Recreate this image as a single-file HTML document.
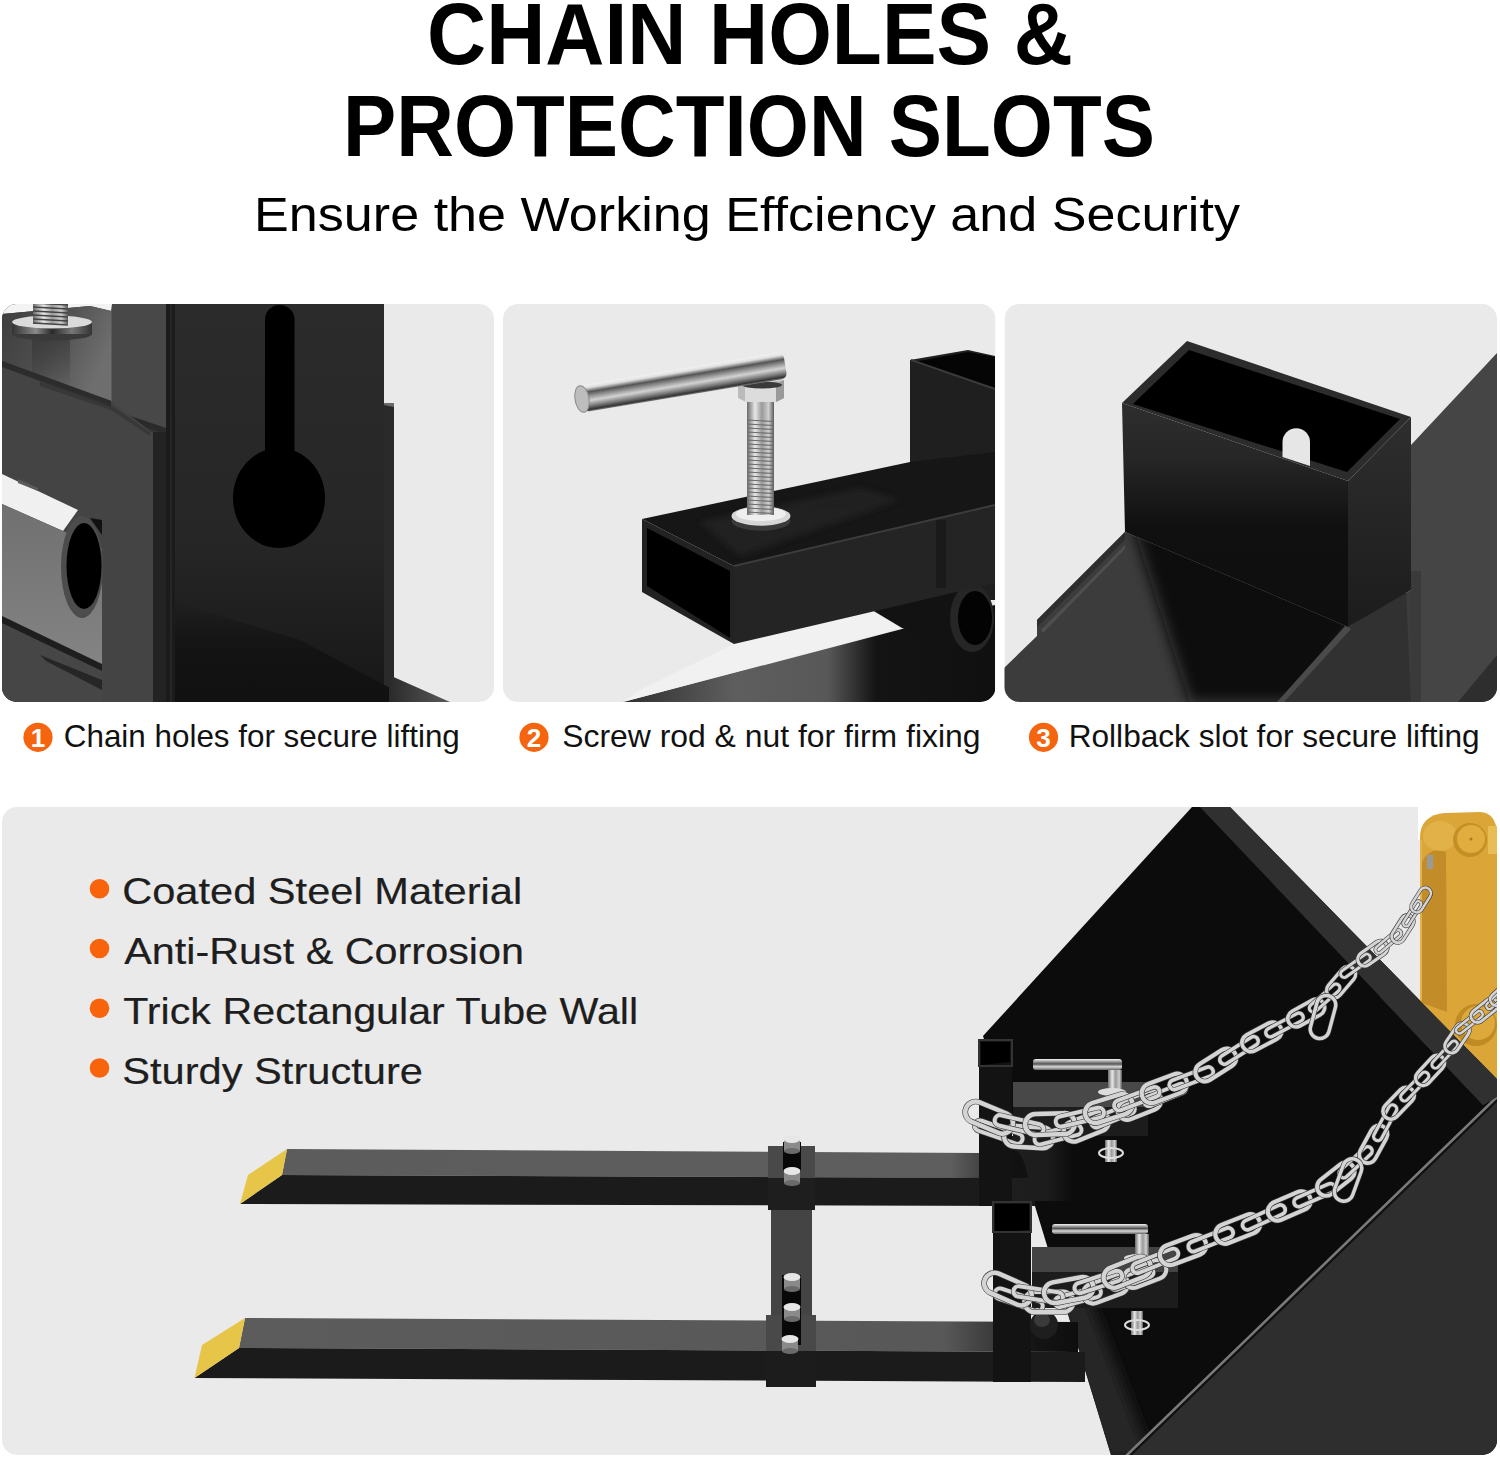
<!DOCTYPE html>
<html><head><meta charset="utf-8">
<style>
html,body{margin:0;padding:0;background:#fff;width:1500px;height:1457px;overflow:hidden}
svg{display:block}
text{font-family:"Liberation Sans",sans-serif}
</style></head>
<body>
<svg width="1500" height="1457" viewBox="0 0 1500 1457">

<defs>
<clipPath id="c1"><rect x="2" y="304" width="492" height="398" rx="15"/></clipPath>
<clipPath id="c2"><rect x="503" y="304" width="492.5" height="398" rx="15"/></clipPath>
<clipPath id="c3"><rect x="1004.5" y="304" width="492.5" height="398" rx="15"/></clipPath>
<clipPath id="c4"><rect x="2" y="807" width="1495" height="648" rx="15"/></clipPath>
<linearGradient id="gPost" x1="0" y1="0" x2="0" y2="1"><stop offset="0" stop-color="#2b2b2b"/><stop offset="0.6" stop-color="#262626"/><stop offset="1" stop-color="#171717"/></linearGradient>
<linearGradient id="gPlate1" x1="0" y1="0" x2="1" y2="0.4"><stop offset="0" stop-color="#3e3e3e"/><stop offset="0.5" stop-color="#4e4e4e"/><stop offset="1" stop-color="#6e6e6e"/></linearGradient>
<linearGradient id="gInner1" x1="0" y1="0" x2="0" y2="1"><stop offset="0" stop-color="#707070"/><stop offset="1" stop-color="#848484"/></linearGradient>
<linearGradient id="gSilverV" x1="0" y1="0" x2="1" y2="0"><stop offset="0" stop-color="#6a6a6a"/><stop offset="0.3" stop-color="#e8e8e8"/><stop offset="0.55" stop-color="#9a9a9a"/><stop offset="0.8" stop-color="#d0d0d0"/><stop offset="1" stop-color="#5a5a5a"/></linearGradient>
<linearGradient id="gRod" x1="0" y1="0" x2="0" y2="1"><stop offset="0" stop-color="#f4f4f4"/><stop offset="0.25" stop-color="#9a9a9a"/><stop offset="0.45" stop-color="#555"/><stop offset="0.7" stop-color="#d8d8d8"/><stop offset="1" stop-color="#666"/></linearGradient>
<linearGradient id="gPlate2" x1="0" y1="0" x2="1" y2="0"><stop offset="0" stop-color="#303030"/><stop offset="0.3" stop-color="#5e5e5e"/><stop offset="0.55" stop-color="#585858"/><stop offset="0.68" stop-color="#141414"/><stop offset="1" stop-color="#101010"/></linearGradient>
<linearGradient id="gFork" x1="0" y1="0" x2="1" y2="0"><stop offset="0" stop-color="#585858"/><stop offset="0.6" stop-color="#5a5a5a"/><stop offset="1" stop-color="#5c5c5c"/></linearGradient>
<linearGradient id="gYel" x1="0" y1="0" x2="1" y2="0"><stop offset="0" stop-color="#c08a22"/><stop offset="0.3" stop-color="#dba73c"/><stop offset="1" stop-color="#dfa935"/></linearGradient>
<linearGradient id="gBox3" x1="0" y1="0" x2="0" y2="1"><stop offset="0" stop-color="#2e2e2e"/><stop offset="0.25" stop-color="#262626"/><stop offset="0.55" stop-color="#101010"/><stop offset="1" stop-color="#0e0e0e"/></linearGradient>
<linearGradient id="gPlate3" x1="0" y1="0" x2="1" y2="0"><stop offset="0" stop-color="#3a3a3a"/><stop offset="0.3" stop-color="#474747"/><stop offset="0.45" stop-color="#2a2a2a"/><stop offset="0.55" stop-color="#111"/><stop offset="1" stop-color="#101010"/></linearGradient>
<linearGradient id="gShadow1" x1="0" y1="0" x2="0" y2="1"><stop offset="0" stop-color="#111" stop-opacity="0"/><stop offset="0.5" stop-color="#111" stop-opacity="0.8"/><stop offset="1" stop-color="#111" stop-opacity="1"/></linearGradient>
<linearGradient id="gWedge1" x1="0" y1="0" x2="1" y2="0"><stop offset="0" stop-color="#2a2a2a"/><stop offset="1" stop-color="#5a5a5a"/></linearGradient>
<linearGradient id="gRefl" x1="0" y1="0" x2="0" y2="1"><stop offset="0" stop-color="#2a2a2a" stop-opacity="0.8"/><stop offset="1" stop-color="#2a2a2a" stop-opacity="0"/></linearGradient>
<linearGradient id="gWasher" x1="0" y1="0" x2="1" y2="0"><stop offset="0" stop-color="#333"/><stop offset="0.3" stop-color="#8a8a8a"/><stop offset="0.5" stop-color="#2a2a2a"/><stop offset="0.75" stop-color="#777"/><stop offset="1" stop-color="#333"/></linearGradient>
<filter id="blur6" x="-20%" y="-20%" width="140%" height="140%"><feGaussianBlur stdDeviation="7"/></filter>
<filter id="blur3" x="-20%" y="-20%" width="140%" height="140%"><feGaussianBlur stdDeviation="3"/></filter>
<clipPath id="cPlate3"><polygon points="1125,532 1037,620 1037,636 1004,668 1004,702 1411,702 1411,590 1348,627"/></clipPath>
<linearGradient id="gRod2" x1="0" y1="0" x2="0" y2="1"><stop offset="0" stop-color="#f2f2f2"/><stop offset="0.12" stop-color="#dedede"/><stop offset="0.28" stop-color="#555"/><stop offset="0.45" stop-color="#9a9a9a"/><stop offset="0.6" stop-color="#d2d2d2"/><stop offset="0.8" stop-color="#777"/><stop offset="0.93" stop-color="#333"/><stop offset="1" stop-color="#8a8a8a"/></linearGradient>
<linearGradient id="gFork2" gradientUnits="userSpaceOnUse" x1="239" y1="0" x2="1078" y2="0"><stop offset="0" stop-color="#5c5c5c"/><stop offset="0.84" stop-color="#585858"/><stop offset="0.9" stop-color="#3a3a3a"/><stop offset="0.9" stop-color="#2a2a2a"/><stop offset="0.95" stop-color="#141414"/><stop offset="1" stop-color="#0e0e0e"/></linearGradient>
<linearGradient id="gFork1" gradientUnits="userSpaceOnUse" x1="282" y1="0" x2="979" y2="0"><stop offset="0" stop-color="#5c5c5c"/><stop offset="0.96" stop-color="#5e5e5e"/><stop offset="1" stop-color="#444"/></linearGradient>
<linearGradient id="gSide3" x1="0" y1="0" x2="0" y2="1"><stop offset="0" stop-color="#2e2e2e"/><stop offset="1" stop-color="#1c1c1c"/></linearGradient>
<clipPath id="cBucket"><polygon points="1192,807 1230,807 1497,1079 1497,1455 1111,1455 983,1036"/></clipPath>
<linearGradient id="gMount" x1="0" y1="0" x2="1" y2="0"><stop offset="0" stop-color="#1e1e1e"/><stop offset="0.6" stop-color="#1c1c1c"/><stop offset="1" stop-color="#0c0c0c"/></linearGradient>
</defs>

<rect width="1500" height="1457" fill="#fff"/>
<text x="427" y="63.7" font-size="86.5" font-weight="bold" fill="#000" textLength="646" lengthAdjust="spacingAndGlyphs">CHAIN HOLES &amp;</text>
<text x="343" y="156" font-size="86.5" font-weight="bold" fill="#000" textLength="812" lengthAdjust="spacingAndGlyphs">PROTECTION SLOTS</text>
<text x="254" y="231" font-size="48.5" fill="#000" textLength="986" lengthAdjust="spacingAndGlyphs">Ensure the Working Effciency and Security</text>
<g clip-path="url(#c1)">
<rect x="2" y="304" width="492" height="398" fill="#eaeaea"/>
<rect x="2" y="304" width="175" height="398" fill="#333"/>
<rect x="168" y="304" width="216" height="398" fill="url(#gPost)"/>
<rect x="384" y="403" width="10" height="300" fill="#2a2a2a"/>
<polygon points="384,403 394,403 394,407 384,405" fill="#6a6a6a"/>
<polygon points="168,600 300,640 394,690 394,702 168,702" fill="url(#gShadow1)"/>
<polygon points="389,675 450,702 389,702" fill="url(#gWedge1)"/>
<rect x="166" y="304" width="9" height="398" fill="#1b1b1b"/>
<rect x="170" y="304" width="2" height="398" fill="#262626"/>
<polygon points="110,304 166,304 166,430 110,411" fill="#484848"/>
<polygon points="110,409 166,428 166,434 110,415" fill="#2a2a2a"/>
<polygon points="2,304 112,304 111,311 90,306 2,314" fill="#f3f3f3"/>
<polygon points="2,314 90,306 111.5,311 111.5,401 2,361" fill="url(#gPlate1)"/>
<rect x="32" y="334" width="38" height="55" fill="url(#gRefl)" opacity="0.6"/>
<ellipse cx="52" cy="334" rx="40" ry="6.5" fill="#3a3a3a"/>
<rect x="12" y="322" width="80" height="12" fill="url(#gWasher)"/>
<ellipse cx="52" cy="322" rx="40" ry="6.5" fill="#dadada"/>
<rect x="33" y="300" width="35" height="24" fill="url(#gSilverV)"/>
<line x1="33" y1="303" x2="68" y2="305" stroke="#444" stroke-width="1.4"/>
<line x1="33" y1="307" x2="68" y2="309" stroke="#444" stroke-width="1.4"/>
<line x1="33" y1="311" x2="68" y2="313" stroke="#444" stroke-width="1.4"/>
<line x1="33" y1="315" x2="68" y2="317" stroke="#444" stroke-width="1.4"/>
<line x1="33" y1="319" x2="68" y2="321" stroke="#444" stroke-width="1.4"/>
<line x1="33" y1="323" x2="68" y2="325" stroke="#444" stroke-width="1.4"/>
<polygon points="2,361 111,401 153,433 153,702 2,702" fill="#444"/>
<polygon points="2,361 111,401 111,407 2,367" fill="#2c2c2c"/>
<polygon points="40,380 111,405 150,432 150,436 111,410 40,386" fill="#333" opacity="0.7"/>
<polygon points="2,474 78,510 63,531 2,504" fill="#f0f0f0"/>
<polygon points="18,479 38,488 38,491 18,483" fill="#5a5a5a"/>
<polygon points="2,504 63,531 102,548 102,668 2,618" fill="url(#gInner1)"/>
<polygon points="2,618 102,668 102,702 2,702" fill="#464646"/>
<polygon points="2,616 102,664 102,671 2,623" fill="#1e1e1e"/>
<polygon points="40,655 102,680 102,690 46,661" fill="#262626"/>
<ellipse cx="82" cy="567" rx="21" ry="51" fill="#4c4c4c"/>
<ellipse cx="84" cy="566" rx="17.5" ry="43" fill="#000"/>
<polygon points="90,518 102,520 102,535" fill="#111"/>
<rect x="153" y="432" width="13" height="270" fill="#232323"/>
<rect x="265" y="305" width="29.5" height="160" rx="14.7" fill="#000"/>
<ellipse cx="279" cy="498" rx="46" ry="50" fill="#000"/>
</g>
<g clip-path="url(#c2)">
<rect x="503" y="304" width="492.5" height="398" fill="#eaeaea"/>
<polygon points="623,702 902,629 995,605 995,702" fill="url(#gPlate2)"/>
<polygon points="640,690 734,644 872,610 902,625 902,628 623,702" fill="#f1f1f1"/>
<polygon points="910,360 968,350 995,356 995,600 910,600" fill="#1f1f1f"/>
<polygon points="913,362 968,352 995,357 995,388" fill="#050505"/>
<line x1="911" y1="360" x2="995" y2="389" stroke="#3a3a3a" stroke-width="2"/>
<polygon points="872,610 972,584 972,652 902,628" fill="#121212"/>
<ellipse cx="972" cy="618" rx="22" ry="34" fill="#262626"/>
<ellipse cx="975" cy="618" rx="17" ry="27" fill="#030303"/>
<polygon points="734,566 995,505 995,583 734,644" fill="#242424"/>
<rect x="936" y="520" width="10" height="68" fill="#1a1a1a"/>
<polygon points="642,519 910,462 995,452 995,505 734,566" fill="#161616"/>
<polygon points="700,522 860,488 900,500 740,556" fill="#262626" opacity="0.7" filter="url(#blur3)"/>
<line x1="734" y1="566" x2="995" y2="505" stroke="#3c3c3c" stroke-width="2"/>
<polygon points="642,519 734,566 734,644 642,592" fill="#222"/>
<polygon points="647,528 730,571 730,638 647,586" fill="#000"/>
<ellipse cx="761" cy="521" rx="29.5" ry="9.7" fill="#3a3a3a"/>
<ellipse cx="761" cy="516" rx="29.5" ry="9.7" fill="#d6d6d6"/>
<ellipse cx="761" cy="514" rx="25" ry="7" fill="#efefef"/>
<rect x="747" y="400" width="27" height="115" fill="url(#gSilverV)"/>
<line x1="747" y1="420" x2="774" y2="421.5" stroke="#6a6a6a" stroke-width="1.1"/>
<line x1="747" y1="424" x2="774" y2="425.5" stroke="#6a6a6a" stroke-width="1.1"/>
<line x1="747" y1="428" x2="774" y2="429.5" stroke="#6a6a6a" stroke-width="1.1"/>
<line x1="747" y1="432" x2="774" y2="433.5" stroke="#6a6a6a" stroke-width="1.1"/>
<line x1="747" y1="436" x2="774" y2="437.5" stroke="#6a6a6a" stroke-width="1.1"/>
<line x1="747" y1="440" x2="774" y2="441.5" stroke="#6a6a6a" stroke-width="1.1"/>
<line x1="747" y1="444" x2="774" y2="445.5" stroke="#6a6a6a" stroke-width="1.1"/>
<line x1="747" y1="448" x2="774" y2="449.5" stroke="#6a6a6a" stroke-width="1.1"/>
<line x1="747" y1="452" x2="774" y2="453.5" stroke="#6a6a6a" stroke-width="1.1"/>
<line x1="747" y1="456" x2="774" y2="457.5" stroke="#6a6a6a" stroke-width="1.1"/>
<line x1="747" y1="460" x2="774" y2="461.5" stroke="#6a6a6a" stroke-width="1.1"/>
<line x1="747" y1="464" x2="774" y2="465.5" stroke="#6a6a6a" stroke-width="1.1"/>
<line x1="747" y1="468" x2="774" y2="469.5" stroke="#6a6a6a" stroke-width="1.1"/>
<line x1="747" y1="472" x2="774" y2="473.5" stroke="#6a6a6a" stroke-width="1.1"/>
<line x1="747" y1="476" x2="774" y2="477.5" stroke="#6a6a6a" stroke-width="1.1"/>
<line x1="747" y1="480" x2="774" y2="481.5" stroke="#6a6a6a" stroke-width="1.1"/>
<line x1="747" y1="484" x2="774" y2="485.5" stroke="#6a6a6a" stroke-width="1.1"/>
<line x1="747" y1="488" x2="774" y2="489.5" stroke="#6a6a6a" stroke-width="1.1"/>
<line x1="747" y1="492" x2="774" y2="493.5" stroke="#6a6a6a" stroke-width="1.1"/>
<line x1="747" y1="496" x2="774" y2="497.5" stroke="#6a6a6a" stroke-width="1.1"/>
<line x1="747" y1="500" x2="774" y2="501.5" stroke="#6a6a6a" stroke-width="1.1"/>
<line x1="747" y1="504" x2="774" y2="505.5" stroke="#6a6a6a" stroke-width="1.1"/>
<line x1="747" y1="508" x2="774" y2="509.5" stroke="#6a6a6a" stroke-width="1.1"/>
<line x1="747" y1="512" x2="774" y2="513.5" stroke="#6a6a6a" stroke-width="1.1"/>
<polygon points="738,386 784,380 784,398 776,402 746,402 738,398" fill="#bbbbbb"/>
<polygon points="745,387 776,385 776,402 745,402" fill="#dcdcdc"/>
<polygon points="776,384 784,380 784,398 776,402" fill="#9a9a9a"/>
<ellipse cx="762" cy="385" rx="20" ry="3.5" fill="#3a3a3a"/>
<g transform="translate(582,399) rotate(-9.46)"><rect x="0" y="-13.5" width="206" height="27" rx="6" fill="url(#gRod2)"/><ellipse cx="0" cy="0" rx="7" ry="13.5" fill="#bdbdbd" stroke="#8a8a8a" stroke-width="1"/></g>
</g>
<g clip-path="url(#c3)">
<rect x="1004.5" y="304" width="492.5" height="398" fill="#eaeaea"/>
<polygon points="1411,445 1497,353 1497,702 1411,702" fill="#454545"/>
<rect x="1411" y="571" width="10" height="131" fill="#3a3a3a"/>
<polygon points="1458,702 1497,655 1497,702" fill="#2e2e2e"/>
<polygon points="1125,532 1037,620 1037,636 1004,668 1004,702 1411,702 1411,590 1348,627" fill="#3c3c3c"/>
<polygon points="1125,532 1037,620 1037,627 1125,540" fill="#2e2e2e"/>
<polygon points="1125,545 1041,630 1043,633 1125,549" fill="#4e4e4e"/>
<g clip-path="url(#cPlate3)"><polygon points="1118,480 1400,560 1300,702 1190,702" fill="#0e0e0e" filter="url(#blur6)"/></g>
<polygon points="1280,702 1348,627 1406,590 1411,702" fill="#313131"/>
<polygon points="1277,702 1346,625 1351,629 1284,702" fill="#4a4a4a"/>
<polygon points="1348,481 1411,417 1411,590 1348,627" fill="url(#gSide3)"/>
<polygon points="1122,403 1348,481 1348,627 1125,532" fill="url(#gBox3)"/>
<polygon points="1122,403 1187,341 1411,417 1348,481" fill="#2c2c2c"/>
<polygon points="1133,404 1189,350 1400,419 1347,472" fill="#000"/>
<path d="M1282.5,442 A13.75,13.75 0 0 1 1310,442 L1310,466 L1282.5,457 Z" fill="#e6e6e6"/>
</g>
<circle cx="38" cy="737.3" r="14.6" fill="#f5650f"/>
<text x="38" y="747" font-size="26" font-weight="bold" fill="#fff" text-anchor="middle">1</text>
<text x="63.8" y="747" font-size="30.5" fill="#111" textLength="396" lengthAdjust="spacingAndGlyphs">Chain holes for secure lifting</text>
<circle cx="534" cy="737.3" r="14.6" fill="#f5650f"/>
<text x="534" y="747" font-size="26" font-weight="bold" fill="#fff" text-anchor="middle">2</text>
<text x="562.2" y="747" font-size="30.5" fill="#111" textLength="418.3" lengthAdjust="spacingAndGlyphs">Screw rod &amp; nut for firm fixing</text>
<circle cx="1043.5" cy="737.3" r="14.6" fill="#f5650f"/>
<text x="1043.5" y="747" font-size="26" font-weight="bold" fill="#fff" text-anchor="middle">3</text>
<text x="1068.7" y="747" font-size="30.5" fill="#111" textLength="411" lengthAdjust="spacingAndGlyphs">Rollback slot for secure lifting</text>
<g clip-path="url(#c4)">
<rect x="2" y="807" width="1495" height="648" fill="#eaeaea"/>
<rect x="1418" y="800" width="90" height="40" fill="#fff"/>
<polygon points="1192,807 1230,807 1497,1079 1497,1455 1111,1455 983,1036" fill="#0c0c0c"/>
<g clip-path="url(#cBucket)"><polygon points="1050,1280 1082,1280 1152,1460 1105,1460" fill="#262626" filter="url(#blur6)"/></g>
<polygon points="1200,807 1230,807 1497,1079 1497,1097 1483,1105" fill="#303030"/>
<polygon points="1497,1098 1497,1455 1127,1455" fill="#2e2e2e"/>
<line x1="1497" y1="1100" x2="1129" y2="1456" stroke="#111" stroke-width="3"/>
<line x1="1497" y1="1097" x2="1126" y2="1456" stroke="#7a7a7a" stroke-width="2.6"/>
<path d="M1420,1001 L1420,838 Q1420,815 1445,813 L1480,812 Q1497,813 1497,835 L1497,1079 Z" fill="#dba637"/>
<path d="M1422,862 Q1430,846 1446,852 L1447,1012 L1422,1003 Z" fill="#b98324" opacity="0.75"/>
<line x1="1421" y1="840" x2="1421" y2="1000" stroke="#e4b24c" stroke-width="2"/>
<ellipse cx="1440" cy="836" rx="17" ry="15" fill="#e8b955" opacity="0.55"/>
<circle cx="1470" cy="840" r="17" fill="#c48f26"/>
<circle cx="1471" cy="839" r="14" fill="#e1ad3e"/>
<circle cx="1471" cy="839" r="1.5" fill="#a87a20"/>
<rect x="1488" y="826" width="9" height="28" fill="#e9bd55"/>
<rect x="1427" y="855" width="6" height="14" fill="#9a9a9a"/>
<circle cx="1476" cy="1025" r="21" fill="#c08a24"/>
<circle cx="1478" cy="1023" r="17" fill="#dda93a"/>
<polygon points="1380,960 1497,1079 1497,1097 1483,1105 1380,997" fill="#303030"/>
<polygon points="287,1149 979,1153 979,1178 282,1175" fill="url(#gFork1)"/>
<polygon points="282,1175 1035,1178 1035,1206 240,1204" fill="#1b1b1b"/>
<polygon points="287,1149 282,1175 240,1204 248,1175" fill="#e6c548"/>
<polygon points="245,1318 1078,1322 1078,1352 239,1348" fill="url(#gFork2)"/>
<polygon points="239,1348 1085,1352 1085,1382 194.5,1378" fill="#1b1b1b"/>
<polygon points="245,1318 239,1348 194.5,1378 202,1345" fill="#e6c548"/>
<rect x="771" y="1177" width="41" height="144" fill="#444"/>
<rect x="768" y="1146" width="47" height="32" fill="#494949"/>
<rect x="768" y="1178" width="47" height="32" fill="#1e1e1e"/>
<rect x="766" y="1315" width="50" height="36" fill="#494949"/>
<rect x="766" y="1351" width="50" height="36" fill="#1c1c1c"/>
<rect x="783" y="1142" width="18" height="30" fill="#080808"/>
<rect x="782" y="1275" width="19" height="70" fill="#080808"/>
<rect x="784" y="1139" width="16" height="12" fill="#8a8a8a"/>
<ellipse cx="792" cy="1151" rx="8" ry="3" fill="#6a6a6a"/>
<ellipse cx="792" cy="1139" rx="8.5" ry="4" fill="#e6e6e6"/>
<rect x="784" y="1171" width="16" height="12" fill="#8a8a8a"/>
<ellipse cx="792" cy="1183" rx="8" ry="3" fill="#6a6a6a"/>
<ellipse cx="792" cy="1171" rx="8.5" ry="4" fill="#e6e6e6"/>
<rect x="784" y="1277" width="16" height="12" fill="#8a8a8a"/>
<ellipse cx="792" cy="1289" rx="8" ry="3" fill="#6a6a6a"/>
<ellipse cx="792" cy="1277" rx="8.5" ry="4" fill="#e6e6e6"/>
<rect x="784" y="1307" width="16" height="12" fill="#8a8a8a"/>
<ellipse cx="792" cy="1319" rx="8" ry="3" fill="#6a6a6a"/>
<ellipse cx="792" cy="1307" rx="8.5" ry="4" fill="#e6e6e6"/>
<rect x="782" y="1339" width="16" height="12" fill="#8a8a8a"/>
<ellipse cx="790" cy="1351" rx="8" ry="3" fill="#6a6a6a"/>
<ellipse cx="790" cy="1339" rx="8.5" ry="4" fill="#e6e6e6"/>
<rect x="979" y="1040" width="33" height="166" fill="#131313"/>
<polygon points="981,1042 1010,1042 1010,1062 981,1065" fill="#000"/>
<rect x="979" y="1040" width="33" height="26" fill="none" stroke="#333" stroke-width="2"/>
<rect x="993" y="1202" width="38" height="180" fill="#131313"/>
<polygon points="995,1204 1029,1204 1029,1230 995,1232" fill="#000"/>
<rect x="993" y="1202" width="38" height="30" fill="none" stroke="#333" stroke-width="2"/>
<ellipse cx="1044" cy="1325" rx="14" ry="14" fill="#1e1e1e"/>
<ellipse cx="1042" cy="1320" rx="8" ry="7" fill="#3a3a3a"/>
<rect x="1013" y="1082" width="135" height="25" fill="#484848"/>
<rect x="1013" y="1107" width="135" height="29" fill="#1c1c1c"/>
<rect x="1032" y="1247" width="146" height="25" fill="#444"/>
<rect x="1032" y="1272" width="146" height="36" fill="#1c1c1c"/>
<rect x="1012" y="1136" width="60" height="65" fill="url(#gMount)"/>
<path d="M1012,1150 Q1022,1148 1028,1178 L1012,1178 Z" fill="#111"/>
<rect x="1033" y="1059" width="89" height="11" rx="3" fill="url(#gRod)"/>
<rect x="1108" y="1070" width="14" height="26" fill="url(#gSilverV)"/>
<ellipse cx="1112" cy="1092" rx="14" ry="4" fill="#ddd"/>
<rect x="1052" y="1224" width="96" height="10" rx="3" fill="url(#gRod)"/>
<rect x="1135" y="1234" width="14" height="28" fill="url(#gSilverV)"/>
<ellipse cx="1138" cy="1258" rx="14" ry="4" fill="#ddd"/>
<rect x="1105" y="1140" width="12" height="22" fill="url(#gSilverV)"/>
<ellipse cx="1111" cy="1153" rx="12" ry="5" fill="none" stroke="#ddd" stroke-width="2"/>
<rect x="1131" y="1311" width="12" height="24" fill="url(#gSilverV)"/>
<ellipse cx="1137" cy="1325" rx="12" ry="5" fill="none" stroke="#ddd" stroke-width="2"/>
<rect x="973.6" y="1126.9" width="50.0" height="10.5" rx="5.2" transform="rotate(18.9 998.6 1132.1)" fill="none" stroke="#3a3a3a" stroke-width="5.2"/>
<rect x="973.6" y="1126.9" width="50.0" height="10.5" rx="5.2" transform="rotate(18.9 998.6 1132.1)" fill="none" stroke="#d4d4d4" stroke-width="4.0"/>
<rect x="1004.0" y="1126.7" width="49.1" height="20.7" rx="10.3" transform="rotate(3.3 1028.5 1137.1)" fill="none" stroke="#3a3a3a" stroke-width="5.6"/>
<rect x="1004.0" y="1126.7" width="49.1" height="20.7" rx="10.3" transform="rotate(3.3 1028.5 1137.1)" fill="none" stroke="#d4d4d4" stroke-width="4.4"/>
<rect x="1033.9" y="1129.6" width="48.2" height="10.2" rx="5.1" transform="rotate(-14.4 1058.0 1134.7)" fill="none" stroke="#3a3a3a" stroke-width="5.1"/>
<rect x="1033.9" y="1129.6" width="48.2" height="10.2" rx="5.1" transform="rotate(-14.4 1058.0 1134.7)" fill="none" stroke="#d4d4d4" stroke-width="3.9"/>
<rect x="1062.6" y="1116.5" width="47.3" height="20.1" rx="10.0" transform="rotate(-21.8 1086.2 1126.5)" fill="none" stroke="#3a3a3a" stroke-width="5.5"/>
<rect x="1062.6" y="1116.5" width="47.3" height="20.1" rx="10.0" transform="rotate(-21.8 1086.2 1126.5)" fill="none" stroke="#d4d4d4" stroke-width="4.3"/>
<rect x="1089.8" y="1110.8" width="46.4" height="9.9" rx="4.9" transform="rotate(-21.8 1113.0 1115.8)" fill="none" stroke="#3a3a3a" stroke-width="5.0"/>
<rect x="1089.8" y="1110.8" width="46.4" height="9.9" rx="4.9" transform="rotate(-21.8 1113.0 1115.8)" fill="none" stroke="#d4d4d4" stroke-width="3.8"/>
<rect x="1116.6" y="1095.5" width="45.5" height="19.5" rx="9.8" transform="rotate(-21.8 1139.3 1105.3)" fill="none" stroke="#3a3a3a" stroke-width="5.3"/>
<rect x="1116.6" y="1095.5" width="45.5" height="19.5" rx="9.8" transform="rotate(-21.8 1139.3 1105.3)" fill="none" stroke="#d4d4d4" stroke-width="4.1"/>
<rect x="1142.7" y="1090.2" width="44.7" height="9.6" rx="4.8" transform="rotate(-21.8 1165.0 1095.0)" fill="none" stroke="#3a3a3a" stroke-width="4.8"/>
<rect x="1142.7" y="1090.2" width="44.7" height="9.6" rx="4.8" transform="rotate(-21.8 1165.0 1095.0)" fill="none" stroke="#d4d4d4" stroke-width="3.6"/>
<rect x="964.1" y="1107.1" width="50.0" height="21.0" rx="10.5" transform="rotate(22.6 989.1 1117.6)" fill="none" stroke="#3a3a3a" stroke-width="5.7"/>
<rect x="964.1" y="1107.1" width="50.0" height="21.0" rx="10.5" transform="rotate(22.6 989.1 1117.6)" fill="none" stroke="#d4d4d4" stroke-width="4.5"/>
<rect x="994.2" y="1119.6" width="49.9" height="10.5" rx="5.2" transform="rotate(13.1 1019.2 1124.8)" fill="none" stroke="#3a3a3a" stroke-width="5.2"/>
<rect x="994.2" y="1119.6" width="49.9" height="10.5" rx="5.2" transform="rotate(13.1 1019.2 1124.8)" fill="none" stroke="#d4d4d4" stroke-width="4.0"/>
<rect x="1025.1" y="1113.6" width="49.7" height="20.9" rx="10.4" transform="rotate(-1.9 1050.0 1124.0)" fill="none" stroke="#3a3a3a" stroke-width="5.7"/>
<rect x="1025.1" y="1113.6" width="49.7" height="20.9" rx="10.4" transform="rotate(-1.9 1050.0 1124.0)" fill="none" stroke="#d4d4d4" stroke-width="4.5"/>
<rect x="1055.2" y="1112.0" width="49.3" height="10.3" rx="5.2" transform="rotate(-12.9 1079.8 1117.2)" fill="none" stroke="#3a3a3a" stroke-width="5.2"/>
<rect x="1055.2" y="1112.0" width="49.3" height="10.3" rx="5.2" transform="rotate(-12.9 1079.8 1117.2)" fill="none" stroke="#d4d4d4" stroke-width="4.0"/>
<rect x="1084.4" y="1098.3" width="48.7" height="20.5" rx="10.2" transform="rotate(-17.4 1108.8 1108.5)" fill="none" stroke="#3a3a3a" stroke-width="5.6"/>
<rect x="1084.4" y="1098.3" width="48.7" height="20.5" rx="10.2" transform="rotate(-17.4 1108.8 1108.5)" fill="none" stroke="#d4d4d4" stroke-width="4.4"/>
<rect x="1112.9" y="1093.6" width="48.0" height="10.1" rx="5.0" transform="rotate(-20.6 1136.9 1098.7)" fill="none" stroke="#3a3a3a" stroke-width="5.1"/>
<rect x="1112.9" y="1093.6" width="48.0" height="10.1" rx="5.0" transform="rotate(-20.6 1136.9 1098.7)" fill="none" stroke="#d4d4d4" stroke-width="3.9"/>
<rect x="1140.8" y="1078.5" width="47.1" height="19.8" rx="9.9" transform="rotate(-20.6 1164.4 1088.4)" fill="none" stroke="#3a3a3a" stroke-width="5.4"/>
<rect x="1140.8" y="1078.5" width="47.1" height="19.8" rx="9.9" transform="rotate(-20.6 1164.4 1088.4)" fill="none" stroke="#d4d4d4" stroke-width="4.2"/>
<rect x="1168.2" y="1073.4" width="46.2" height="9.7" rx="4.8" transform="rotate(-20.6 1191.3 1078.3)" fill="none" stroke="#3a3a3a" stroke-width="4.9"/>
<rect x="1168.2" y="1073.4" width="46.2" height="9.7" rx="4.8" transform="rotate(-20.6 1191.3 1078.3)" fill="none" stroke="#d4d4d4" stroke-width="3.7"/>
<rect x="1193.3" y="1055.5" width="45.0" height="18.9" rx="9.5" transform="rotate(-32.2 1215.9 1065.0)" fill="none" stroke="#3a3a3a" stroke-width="5.3"/>
<rect x="1193.3" y="1055.5" width="45.0" height="18.9" rx="9.5" transform="rotate(-32.2 1215.9 1065.0)" fill="none" stroke="#d4d4d4" stroke-width="4.1"/>
<rect x="1217.1" y="1045.8" width="43.8" height="9.2" rx="4.6" transform="rotate(-32.2 1239.0 1050.4)" fill="none" stroke="#3a3a3a" stroke-width="4.8"/>
<rect x="1217.1" y="1045.8" width="43.8" height="9.2" rx="4.6" transform="rotate(-32.2 1239.0 1050.4)" fill="none" stroke="#d4d4d4" stroke-width="3.6"/>
<rect x="1240.5" y="1028.0" width="42.5" height="17.9" rx="8.9" transform="rotate(-27.8 1261.8 1036.9)" fill="none" stroke="#3a3a3a" stroke-width="5.0"/>
<rect x="1240.5" y="1028.0" width="42.5" height="17.9" rx="8.9" transform="rotate(-27.8 1261.8 1036.9)" fill="none" stroke="#d4d4d4" stroke-width="3.8"/>
<rect x="1263.9" y="1020.6" width="41.1" height="8.7" rx="4.3" transform="rotate(-27.8 1284.5 1024.9)" fill="none" stroke="#3a3a3a" stroke-width="4.6"/>
<rect x="1263.9" y="1020.6" width="41.1" height="8.7" rx="4.3" transform="rotate(-27.8 1284.5 1024.9)" fill="none" stroke="#d4d4d4" stroke-width="3.4"/>
<rect x="1286.4" y="1004.7" width="39.7" height="16.7" rx="8.3" transform="rotate(-28.8 1306.2 1013.1)" fill="none" stroke="#3a3a3a" stroke-width="4.8"/>
<rect x="1286.4" y="1004.7" width="39.7" height="16.7" rx="8.3" transform="rotate(-28.8 1306.2 1013.1)" fill="none" stroke="#d4d4d4" stroke-width="3.6"/>
<rect x="1305.5" y="994.0" width="38.2" height="8.0" rx="4.0" transform="rotate(-41.6 1324.6 998.0)" fill="none" stroke="#3a3a3a" stroke-width="4.3"/>
<rect x="1305.5" y="994.0" width="38.2" height="8.0" rx="4.0" transform="rotate(-41.6 1324.6 998.0)" fill="none" stroke="#d4d4d4" stroke-width="3.1"/>
<rect x="1322.8" y="974.5" width="36.6" height="15.4" rx="7.7" transform="rotate(-49.4 1341.1 982.2)" fill="none" stroke="#3a3a3a" stroke-width="4.5"/>
<rect x="1322.8" y="974.5" width="36.6" height="15.4" rx="7.7" transform="rotate(-49.4 1341.1 982.2)" fill="none" stroke="#d4d4d4" stroke-width="3.3"/>
<rect x="1337.9" y="962.0" width="35.0" height="7.4" rx="3.7" transform="rotate(-35.5 1355.5 965.7)" fill="none" stroke="#3a3a3a" stroke-width="4.1"/>
<rect x="1337.9" y="962.0" width="35.0" height="7.4" rx="3.7" transform="rotate(-35.5 1355.5 965.7)" fill="none" stroke="#d4d4d4" stroke-width="2.9"/>
<rect x="1355.8" y="946.5" width="33.4" height="14.1" rx="7.1" transform="rotate(-35.5 1372.5 953.5)" fill="none" stroke="#3a3a3a" stroke-width="4.3"/>
<rect x="1355.8" y="946.5" width="33.4" height="14.1" rx="7.1" transform="rotate(-35.5 1372.5 953.5)" fill="none" stroke="#d4d4d4" stroke-width="3.1"/>
<rect x="1372.4" y="938.1" width="31.9" height="6.7" rx="3.4" transform="rotate(-40.1 1388.4 941.5)" fill="none" stroke="#3a3a3a" stroke-width="3.8"/>
<rect x="1372.4" y="938.1" width="31.9" height="6.7" rx="3.4" transform="rotate(-40.1 1388.4 941.5)" fill="none" stroke="#d4d4d4" stroke-width="2.6"/>
<rect x="1387.5" y="922.6" width="30.3" height="12.8" rx="6.4" transform="rotate(-57.7 1402.6 929.0)" fill="none" stroke="#3a3a3a" stroke-width="4.0"/>
<rect x="1387.5" y="922.6" width="30.3" height="12.8" rx="6.4" transform="rotate(-57.7 1402.6 929.0)" fill="none" stroke="#d4d4d4" stroke-width="2.8"/>
<rect x="1397.9" y="910.8" width="28.7" height="6.1" rx="3.0" transform="rotate(-57.7 1412.2 913.8)" fill="none" stroke="#3a3a3a" stroke-width="3.6"/>
<rect x="1397.9" y="910.8" width="28.7" height="6.1" rx="3.0" transform="rotate(-57.7 1412.2 913.8)" fill="none" stroke="#d4d4d4" stroke-width="2.4"/>
<rect x="1407.4" y="894.3" width="27.2" height="11.5" rx="5.7" transform="rotate(-57.7 1421.0 900.0)" fill="none" stroke="#3a3a3a" stroke-width="3.7"/>
<rect x="1407.4" y="894.3" width="27.2" height="11.5" rx="5.7" transform="rotate(-57.7 1421.0 900.0)" fill="none" stroke="#d4d4d4" stroke-width="2.5"/>
<rect x="1301.0" y="1007.5" width="44.0" height="19.0" rx="9.5" transform="rotate(-75.0 1323.0 1017.0)" fill="none" stroke="#3a3a3a" stroke-width="4.7"/>
<rect x="1301.0" y="1007.5" width="44.0" height="19.0" rx="9.5" transform="rotate(-75.0 1323.0 1017.0)" fill="none" stroke="#d4d4d4" stroke-width="3.5"/>
<rect x="993.7" y="1294.7" width="50.0" height="10.5" rx="5.2" transform="rotate(18.4 1018.7 1299.9)" fill="none" stroke="#3a3a3a" stroke-width="5.2"/>
<rect x="993.7" y="1294.7" width="50.0" height="10.5" rx="5.2" transform="rotate(18.4 1018.7 1299.9)" fill="none" stroke="#d4d4d4" stroke-width="4.0"/>
<rect x="1024.4" y="1291.7" width="48.8" height="20.6" rx="10.3" transform="rotate(0.0 1048.8 1302.0)" fill="none" stroke="#3a3a3a" stroke-width="5.6"/>
<rect x="1024.4" y="1291.7" width="48.8" height="20.6" rx="10.3" transform="rotate(0.0 1048.8 1302.0)" fill="none" stroke="#d4d4d4" stroke-width="4.4"/>
<rect x="1054.0" y="1292.1" width="47.6" height="10.1" rx="5.1" transform="rotate(-15.4 1077.8 1297.1)" fill="none" stroke="#3a3a3a" stroke-width="5.1"/>
<rect x="1054.0" y="1292.1" width="47.6" height="10.1" rx="5.1" transform="rotate(-15.4 1077.8 1297.1)" fill="none" stroke="#d4d4d4" stroke-width="3.9"/>
<rect x="1082.3" y="1279.0" width="46.5" height="19.8" rx="9.9" transform="rotate(-20.7 1105.6 1288.9)" fill="none" stroke="#3a3a3a" stroke-width="5.4"/>
<rect x="1082.3" y="1279.0" width="46.5" height="19.8" rx="9.9" transform="rotate(-20.7 1105.6 1288.9)" fill="none" stroke="#d4d4d4" stroke-width="4.2"/>
<rect x="1109.3" y="1274.0" width="45.4" height="9.7" rx="4.9" transform="rotate(-20.7 1132.0 1278.9)" fill="none" stroke="#3a3a3a" stroke-width="4.9"/>
<rect x="1109.3" y="1274.0" width="45.4" height="9.7" rx="4.9" transform="rotate(-20.7 1132.0 1278.9)" fill="none" stroke="#d4d4d4" stroke-width="3.7"/>
<rect x="1122.8" y="1264.4" width="44.3" height="19.1" rx="9.6" transform="rotate(-20.7 1145.0 1274.0)" fill="none" stroke="#3a3a3a" stroke-width="5.2"/>
<rect x="1122.8" y="1264.4" width="44.3" height="19.1" rx="9.6" transform="rotate(-20.7 1145.0 1274.0)" fill="none" stroke="#d4d4d4" stroke-width="4.0"/>
<rect x="982.9" y="1278.6" width="50.0" height="21.0" rx="10.5" transform="rotate(23.7 1007.9 1289.1)" fill="none" stroke="#3a3a3a" stroke-width="5.7"/>
<rect x="982.9" y="1278.6" width="50.0" height="21.0" rx="10.5" transform="rotate(23.7 1007.9 1289.1)" fill="none" stroke="#d4d4d4" stroke-width="4.5"/>
<rect x="1013.3" y="1289.2" width="49.9" height="10.5" rx="5.2" transform="rotate(8.9 1038.3 1294.4)" fill="none" stroke="#3a3a3a" stroke-width="5.2"/>
<rect x="1013.3" y="1289.2" width="49.9" height="10.5" rx="5.2" transform="rotate(8.9 1038.3 1294.4)" fill="none" stroke="#d4d4d4" stroke-width="4.0"/>
<rect x="1043.8" y="1279.6" width="49.8" height="20.9" rx="10.5" transform="rotate(-10.4 1068.7 1290.1)" fill="none" stroke="#3a3a3a" stroke-width="5.7"/>
<rect x="1043.8" y="1279.6" width="49.8" height="20.9" rx="10.5" transform="rotate(-10.4 1068.7 1290.1)" fill="none" stroke="#d4d4d4" stroke-width="4.5"/>
<rect x="1073.6" y="1276.8" width="49.5" height="10.4" rx="5.2" transform="rotate(-18.0 1098.3 1282.0)" fill="none" stroke="#3a3a3a" stroke-width="5.2"/>
<rect x="1073.6" y="1276.8" width="49.5" height="10.4" rx="5.2" transform="rotate(-18.0 1098.3 1282.0)" fill="none" stroke="#d4d4d4" stroke-width="4.0"/>
<rect x="1102.6" y="1261.8" width="49.1" height="20.7" rx="10.3" transform="rotate(-21.8 1127.2 1272.1)" fill="none" stroke="#3a3a3a" stroke-width="5.6"/>
<rect x="1102.6" y="1261.8" width="49.1" height="20.7" rx="10.3" transform="rotate(-21.8 1127.2 1272.1)" fill="none" stroke="#d4d4d4" stroke-width="4.4"/>
<rect x="1130.9" y="1255.8" width="48.7" height="10.2" rx="5.1" transform="rotate(-21.8 1155.2 1260.9)" fill="none" stroke="#3a3a3a" stroke-width="5.1"/>
<rect x="1130.9" y="1255.8" width="48.7" height="10.2" rx="5.1" transform="rotate(-21.8 1155.2 1260.9)" fill="none" stroke="#d4d4d4" stroke-width="3.9"/>
<rect x="1159.0" y="1240.0" width="48.1" height="20.2" rx="10.1" transform="rotate(-20.6 1183.1 1250.1)" fill="none" stroke="#3a3a3a" stroke-width="5.5"/>
<rect x="1159.0" y="1240.0" width="48.1" height="20.2" rx="10.1" transform="rotate(-20.6 1183.1 1250.1)" fill="none" stroke="#d4d4d4" stroke-width="4.3"/>
<rect x="1187.0" y="1234.7" width="47.4" height="10.0" rx="5.0" transform="rotate(-21.5 1210.7 1239.7)" fill="none" stroke="#3a3a3a" stroke-width="5.1"/>
<rect x="1187.0" y="1234.7" width="47.4" height="10.0" rx="5.0" transform="rotate(-21.5 1210.7 1239.7)" fill="none" stroke="#d4d4d4" stroke-width="3.9"/>
<rect x="1214.4" y="1219.2" width="46.7" height="19.6" rx="9.8" transform="rotate(-21.5 1237.7 1229.1)" fill="none" stroke="#3a3a3a" stroke-width="5.4"/>
<rect x="1214.4" y="1219.2" width="46.7" height="19.6" rx="9.8" transform="rotate(-21.5 1237.7 1229.1)" fill="none" stroke="#d4d4d4" stroke-width="4.2"/>
<rect x="1240.9" y="1212.6" width="45.9" height="9.7" rx="4.8" transform="rotate(-24.7 1263.8 1217.4)" fill="none" stroke="#3a3a3a" stroke-width="4.9"/>
<rect x="1240.9" y="1212.6" width="45.9" height="9.7" rx="4.8" transform="rotate(-24.7 1263.8 1217.4)" fill="none" stroke="#d4d4d4" stroke-width="3.7"/>
<rect x="1266.8" y="1196.5" width="45.0" height="18.9" rx="9.5" transform="rotate(-23.4 1289.3 1206.0)" fill="none" stroke="#3a3a3a" stroke-width="5.3"/>
<rect x="1266.8" y="1196.5" width="45.0" height="18.9" rx="9.5" transform="rotate(-23.4 1289.3 1206.0)" fill="none" stroke="#d4d4d4" stroke-width="4.1"/>
<rect x="1292.5" y="1190.5" width="44.0" height="9.3" rx="4.6" transform="rotate(-23.4 1314.5 1195.1)" fill="none" stroke="#3a3a3a" stroke-width="4.8"/>
<rect x="1292.5" y="1190.5" width="44.0" height="9.3" rx="4.6" transform="rotate(-23.4 1314.5 1195.1)" fill="none" stroke="#d4d4d4" stroke-width="3.6"/>
<rect x="1314.4" y="1170.1" width="42.9" height="18.1" rx="9.1" transform="rotate(-38.2 1335.9 1179.2)" fill="none" stroke="#3a3a3a" stroke-width="5.1"/>
<rect x="1314.4" y="1170.1" width="42.9" height="18.1" rx="9.1" transform="rotate(-38.2 1335.9 1179.2)" fill="none" stroke="#d4d4d4" stroke-width="3.9"/>
<rect x="1334.7" y="1157.8" width="41.8" height="8.8" rx="4.4" transform="rotate(-42.8 1355.6 1162.2)" fill="none" stroke="#3a3a3a" stroke-width="4.6"/>
<rect x="1334.7" y="1157.8" width="41.8" height="8.8" rx="4.4" transform="rotate(-42.8 1355.6 1162.2)" fill="none" stroke="#d4d4d4" stroke-width="3.4"/>
<rect x="1353.1" y="1135.7" width="40.7" height="17.2" rx="8.6" transform="rotate(-61.6 1373.4 1144.3)" fill="none" stroke="#3a3a3a" stroke-width="4.9"/>
<rect x="1353.1" y="1135.7" width="40.7" height="17.2" rx="8.6" transform="rotate(-61.6 1373.4 1144.3)" fill="none" stroke="#d4d4d4" stroke-width="3.7"/>
<rect x="1365.4" y="1118.5" width="39.5" height="8.4" rx="4.2" transform="rotate(-61.6 1385.2 1122.7)" fill="none" stroke="#3a3a3a" stroke-width="4.4"/>
<rect x="1365.4" y="1118.5" width="39.5" height="8.4" rx="4.2" transform="rotate(-61.6 1385.2 1122.7)" fill="none" stroke="#d4d4d4" stroke-width="3.2"/>
<rect x="1379.5" y="1095.1" width="38.3" height="16.2" rx="8.1" transform="rotate(-45.9 1398.6 1103.2)" fill="none" stroke="#3a3a3a" stroke-width="4.7"/>
<rect x="1379.5" y="1095.1" width="38.3" height="16.2" rx="8.1" transform="rotate(-45.9 1398.6 1103.2)" fill="none" stroke="#d4d4d4" stroke-width="3.5"/>
<rect x="1396.2" y="1082.6" width="37.1" height="7.9" rx="3.9" transform="rotate(-45.9 1414.7 1086.6)" fill="none" stroke="#3a3a3a" stroke-width="4.2"/>
<rect x="1396.2" y="1082.6" width="37.1" height="7.9" rx="3.9" transform="rotate(-45.9 1414.7 1086.6)" fill="none" stroke="#d4d4d4" stroke-width="3.0"/>
<rect x="1412.2" y="1062.8" width="35.8" height="15.2" rx="7.6" transform="rotate(-47.1 1430.1 1070.4)" fill="none" stroke="#3a3a3a" stroke-width="4.5"/>
<rect x="1412.2" y="1062.8" width="35.8" height="15.2" rx="7.6" transform="rotate(-47.1 1430.1 1070.4)" fill="none" stroke="#d4d4d4" stroke-width="3.3"/>
<rect x="1427.5" y="1050.9" width="34.5" height="7.3" rx="3.7" transform="rotate(-47.1 1444.8 1054.6)" fill="none" stroke="#3a3a3a" stroke-width="4.0"/>
<rect x="1427.5" y="1050.9" width="34.5" height="7.3" rx="3.7" transform="rotate(-47.1 1444.8 1054.6)" fill="none" stroke="#d4d4d4" stroke-width="2.8"/>
<rect x="1440.5" y="1030.9" width="33.2" height="14.1" rx="7.1" transform="rotate(-55.8 1457.2 1038.0)" fill="none" stroke="#3a3a3a" stroke-width="4.3"/>
<rect x="1440.5" y="1030.9" width="33.2" height="14.1" rx="7.1" transform="rotate(-55.8 1457.2 1038.0)" fill="none" stroke="#d4d4d4" stroke-width="3.1"/>
<rect x="1453.4" y="1019.0" width="32.0" height="6.8" rx="3.4" transform="rotate(-38.3 1469.3 1022.4)" fill="none" stroke="#3a3a3a" stroke-width="3.8"/>
<rect x="1453.4" y="1019.0" width="32.0" height="6.8" rx="3.4" transform="rotate(-38.3 1469.3 1022.4)" fill="none" stroke="#d4d4d4" stroke-width="2.6"/>
<rect x="1469.0" y="1003.9" width="30.7" height="13.1" rx="6.5" transform="rotate(-38.3 1484.4 1010.5)" fill="none" stroke="#3a3a3a" stroke-width="4.0"/>
<rect x="1469.0" y="1003.9" width="30.7" height="13.1" rx="6.5" transform="rotate(-38.3 1484.4 1010.5)" fill="none" stroke="#d4d4d4" stroke-width="2.8"/>
<rect x="1483.1" y="994.8" width="29.4" height="6.3" rx="3.1" transform="rotate(-43.3 1497.8 997.9)" fill="none" stroke="#3a3a3a" stroke-width="3.6"/>
<rect x="1483.1" y="994.8" width="29.4" height="6.3" rx="3.1" transform="rotate(-43.3 1497.8 997.9)" fill="none" stroke="#d4d4d4" stroke-width="2.4"/>
<rect x="1487.9" y="988.0" width="28.2" height="12.1" rx="6.0" transform="rotate(-43.3 1502.0 994.0)" fill="none" stroke="#3a3a3a" stroke-width="3.8"/>
<rect x="1487.9" y="988.0" width="28.2" height="12.1" rx="6.0" transform="rotate(-43.3 1502.0 994.0)" fill="none" stroke="#d4d4d4" stroke-width="2.6"/>
<rect x="1326.0" y="1170.5" width="44.0" height="19.0" rx="9.5" transform="rotate(-70.0 1348.0 1180.0)" fill="none" stroke="#3a3a3a" stroke-width="4.7"/>
<rect x="1326.0" y="1170.5" width="44.0" height="19.0" rx="9.5" transform="rotate(-70.0 1348.0 1180.0)" fill="none" stroke="#d4d4d4" stroke-width="3.5"/>
</g>
<g fill="#f8640c"><circle cx="99.5" cy="888.8" r="9.8"/><circle cx="99.5" cy="948.5" r="9.8"/><circle cx="99.5" cy="1008.3" r="9.8"/><circle cx="99.5" cy="1068" r="9.8"/></g>
<g fill="#1e1e1e" font-size="37.8" stroke="#1e1e1e" stroke-width="0.2">
<text x="122.2" y="904" textLength="400" lengthAdjust="spacingAndGlyphs">Coated Steel Material</text>
<text x="124.2" y="964" textLength="399.8" lengthAdjust="spacingAndGlyphs">Anti-Rust &amp; Corrosion</text>
<text x="123.2" y="1024" textLength="515" lengthAdjust="spacingAndGlyphs">Trick Rectangular Tube Wall</text>
<text x="122.2" y="1084" textLength="300.8" lengthAdjust="spacingAndGlyphs">Sturdy Structure</text>
</g>
</svg></body></html>
